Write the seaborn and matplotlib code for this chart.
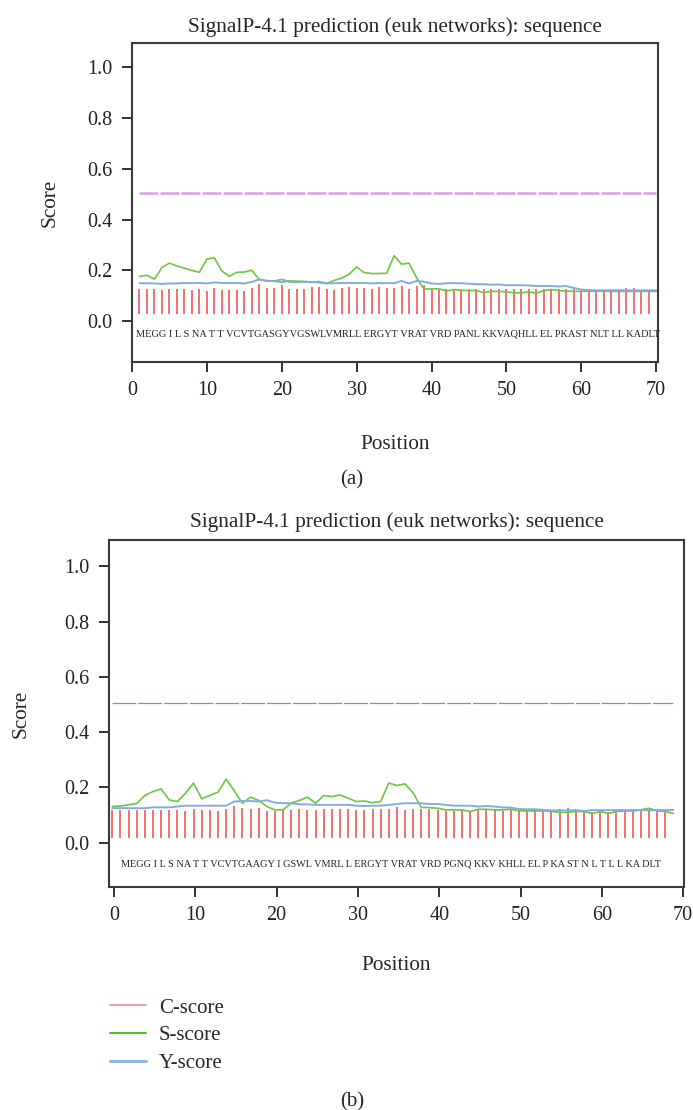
import matplotlib
matplotlib.use("Agg")
import matplotlib.pyplot as plt
from matplotlib.lines import Line2D
import numpy as np
import seaborn as sns

# SignalP-4.1 scores
# (a) positions 1..70 for S/Y lines, C bars at 1..69
seq_a = "MEGG I L S NA T T VCVTGASGYVGSWLVMRLL ERGYT VRAT VRD PANL KKVAQHLL EL PKAST NLT LL KADLT"
s_a = [0.177, 0.181, 0.166, 0.212, 0.229, 0.218, 0.209, 0.200, 0.193, 0.245,
       0.250, 0.198, 0.177, 0.193, 0.194, 0.201, 0.164, 0.159, 0.158, 0.154,
       0.159, 0.158, 0.157, 0.155, 0.152, 0.149, 0.161, 0.170, 0.185, 0.214,
       0.192, 0.188, 0.188, 0.189, 0.258, 0.225, 0.229, 0.172, 0.126, 0.128,
       0.128, 0.119, 0.125, 0.122, 0.121, 0.121, 0.113, 0.118, 0.118, 0.116,
       0.112, 0.112, 0.116, 0.111, 0.121, 0.125, 0.121, 0.119, 0.118, 0.118,
       0.118, 0.118, 0.118, 0.118, 0.118, 0.118, 0.118, 0.118, 0.118, 0.118]
y_a = [0.150, 0.150, 0.149, 0.147, 0.149, 0.149, 0.151, 0.150, 0.151, 0.149,
       0.153, 0.151, 0.151, 0.151, 0.149, 0.155, 0.165, 0.160, 0.158, 0.165,
       0.155, 0.154, 0.155, 0.154, 0.156, 0.149, 0.150, 0.151, 0.151, 0.151,
       0.151, 0.149, 0.151, 0.150, 0.150, 0.159, 0.149, 0.159, 0.156, 0.149,
       0.147, 0.150, 0.150, 0.150, 0.148, 0.146, 0.146, 0.144, 0.145, 0.142,
       0.142, 0.142, 0.141, 0.139, 0.139, 0.139, 0.137, 0.139, 0.131, 0.125,
       0.122, 0.122, 0.122, 0.122, 0.122, 0.122, 0.122, 0.122, 0.122, 0.122]
c_a = [0.126, 0.126, 0.126, 0.124, 0.126, 0.126, 0.126, 0.122, 0.126, 0.120,
       0.130, 0.122, 0.122, 0.122, 0.120, 0.130, 0.146, 0.130, 0.130, 0.142,
       0.126, 0.126, 0.126, 0.134, 0.134, 0.126, 0.122, 0.130, 0.136, 0.133,
       0.130, 0.126, 0.134, 0.133, 0.130, 0.140, 0.126, 0.140, 0.144, 0.129,
       0.124, 0.129, 0.126, 0.129, 0.126, 0.126, 0.126, 0.129, 0.126, 0.126,
       0.129, 0.126, 0.129, 0.126, 0.129, 0.126, 0.126, 0.126, 0.126, 0.126,
       0.126, 0.120, 0.120, 0.126, 0.126, 0.130, 0.130, 0.123, 0.123]

# (b)
seq_b = "MEGG I L S NA T T VCVTGAAGY I GSWL VMRL L ERGYT VRAT VRD PGNQ KKV KHLL EL P KA ST N L T L L KA DLT"
s_b = [0.131, 0.133, 0.137, 0.142, 0.171, 0.185, 0.195, 0.155, 0.149, 0.179,
       0.216, 0.159, 0.171, 0.183, 0.230, 0.188, 0.143, 0.165, 0.153, 0.131,
       0.119, 0.119, 0.143, 0.153, 0.165, 0.143, 0.171, 0.167, 0.173, 0.161,
       0.149, 0.151, 0.145, 0.149, 0.216, 0.207, 0.213, 0.180, 0.128, 0.127,
       0.125, 0.119, 0.119, 0.119, 0.113, 0.121, 0.121, 0.119, 0.119, 0.121,
       0.116, 0.115, 0.115, 0.115, 0.113, 0.110, 0.110, 0.113, 0.113, 0.106,
       0.113, 0.106, 0.113, 0.115, 0.115, 0.119, 0.125, 0.115, 0.113, 0.106]
y_b = [0.125, 0.125, 0.125, 0.125, 0.125, 0.128, 0.128, 0.128, 0.131, 0.134,
       0.134, 0.134, 0.134, 0.134, 0.134, 0.149, 0.151, 0.151, 0.149, 0.154,
       0.145, 0.143, 0.143, 0.139, 0.139, 0.137, 0.137, 0.137, 0.137, 0.137,
       0.134, 0.133, 0.134, 0.134, 0.137, 0.140, 0.143, 0.143, 0.143, 0.140,
       0.140, 0.137, 0.134, 0.134, 0.134, 0.131, 0.133, 0.131, 0.128, 0.127,
       0.122, 0.121, 0.121, 0.119, 0.117, 0.117, 0.117, 0.117, 0.115, 0.118,
       0.118, 0.118, 0.118, 0.118, 0.118, 0.118, 0.118, 0.118, 0.118, 0.119]
c_b = [0.119, 0.119, 0.119, 0.119, 0.119, 0.119, 0.119, 0.119, 0.119, 0.115,
       0.122, 0.119, 0.119, 0.115, 0.122, 0.132, 0.127, 0.122, 0.127, 0.115,
       0.115, 0.119, 0.119, 0.122, 0.119, 0.119, 0.122, 0.122, 0.122, 0.122,
       0.119, 0.119, 0.122, 0.122, 0.122, 0.129, 0.119, 0.122, 0.122, 0.122,
       0.119, 0.115, 0.115, 0.122, 0.115, 0.122, 0.122, 0.122, 0.115, 0.122,
       0.115, 0.119, 0.119, 0.119, 0.115, 0.122, 0.124, 0.122, 0.111, 0.111,
       0.115, 0.111, 0.115, 0.115, 0.115, 0.115, 0.119, 0.115, 0.115]

cutoff = 0.505
bar_base_a = 0.027
bar_base_b = 0.018

RED = "#f04848"
GREEN = "#6cc83c"
BLUE = "#86abe0"

sns.set_theme(style="white")
plt.rcParams["font.family"] = ["Liberation Serif", "DejaVu Serif"]

W, H = 693, 1110
fig = plt.figure(figsize=(W / 100, H / 100), dpi=100)


def box(l, t, r, b):
    return [l / W, 1 - b / H, (r - l) / W, (b - t) / H]


def draw_panel(ax, pos_line, pos_bar, s, y, c, base, seq, seq_x, seq_y, seq_fs,
               xlim, dash_color, dash_lw, dash_pat):
    ax.vlines(pos_bar, base, c, color=RED, lw=1.1)
    sns.lineplot(x=pos_line, y=s, ax=ax, color=GREEN, lw=1.2, sort=False)
    sns.lineplot(x=pos_line, y=y, ax=ax, color=BLUE, lw=1.4, sort=False)
    ax.hlines(cutoff, pos_line[0], pos_line[-1], color=dash_color, lw=dash_lw,
              linestyles=[(0, dash_pat)])
    ax.text(seq_x, seq_y, seq, fontsize=seq_fs, va="center", ha="left", color="#222222")
    ax.set_xlim(*xlim)
    ax.set_ylim(-0.16, 1.095)
    ax.set_xticks(range(0, 71, 10))
    ax.set_yticks([0.0, 0.2, 0.4, 0.6, 0.8, 1.0])
    ax.set_yticklabels(["0.0", "0.2", "0.4", "0.6", "0.8", "1.0"])
    ax.tick_params(axis="both", which="both", direction="out", length=7, width=1.3,
                   labelsize=14.5, color="#222222", labelcolor="#222222", pad=7,
                   left=True, bottom=True, top=False, right=False)
    for sp in ax.spines.values():
        sp.set_color("#3a3a3a")
        sp.set_linewidth(1.5)
        sp.set_visible(True)


# ---- (a)
ax1 = fig.add_axes(box(132, 43, 658, 362))
pos_a = np.arange(1, 71)
draw_panel(ax1, pos_a, pos_a[:69], s_a, y_a, c_a, bar_base_a, seq_a, 0.5, -0.048, 7.45,
           (0, 70.25), "#d9a0e2", 1.8, (7.6, 0.8))
ax1.set_title("SignalP-4.1 prediction (euk networks): sequence", fontsize=15.3, pad=8)
ax1.set_xlabel("Position", fontsize=15.3, labelpad=25)
ax1.set_ylabel("Score", fontsize=15.3, labelpad=20)

# ---- (b)
ax2 = fig.add_axes(box(109, 540, 684, 887))
pos_b = np.arange(70) - 0.2
draw_panel(ax2, pos_b, pos_b[:69], s_b, y_b, c_b, bar_base_b, seq_b, 0.85, -0.076, 7.35,
           (-0.6, 70.1), "#c668cf", 0.9, (19, 1.6))
ax2.set_title("SignalP-4.1 prediction (euk networks): sequence", fontsize=15.3, pad=9)
ax2.set_xlabel("Position", fontsize=15.3, labelpad=22)
ax2.set_ylabel("Score", fontsize=15.3, labelpad=24)

handles = [Line2D([], [], color="#f08a8a", lw=1.2),
           Line2D([], [], color="#3cc81e", lw=1.4),
           Line2D([], [], color="#8fb4e2", lw=2.2)]
fig.legend(handles, ["C-score", "S-score", "Y-score"], loc="upper left",
           bbox_to_anchor=(110 / W, 1 - 998 / H), frameon=False, fontsize=15,
           handlelength=1.75, handletextpad=0.6, labelspacing=0.4,
           borderpad=0, borderaxespad=0)

fig.text(352 / W, 1 - 480 / H, "(a)", ha="center", va="center", fontsize=15)
fig.text(352 / W, 1 - 1102 / H, "(b)", ha="center", va="center", fontsize=15)

fig.savefig("out.png", dpi=100, facecolor="white")
